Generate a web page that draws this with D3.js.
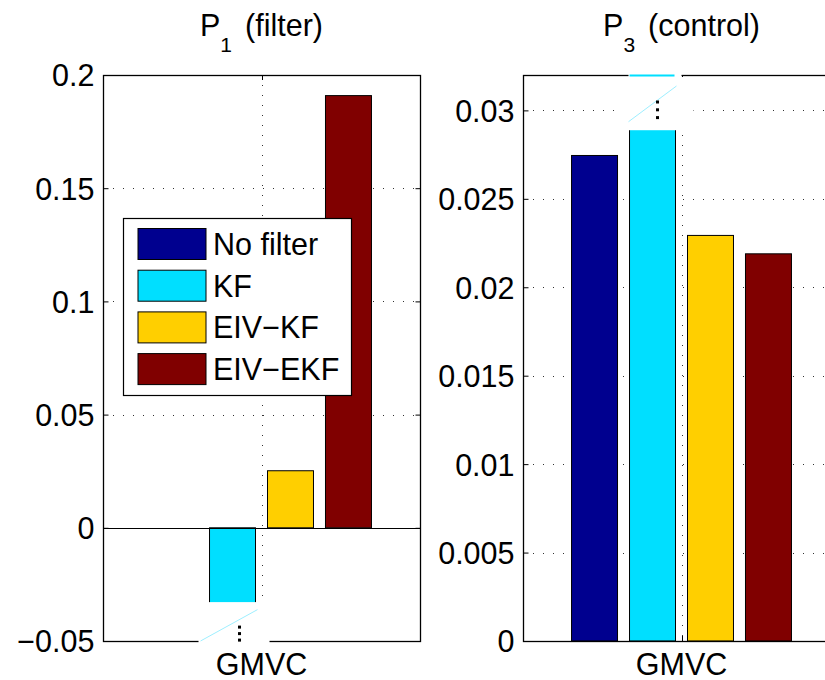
<!DOCTYPE html>
<html>
<head>
<meta charset="utf-8">
<script src="https://cdn.jsdelivr.net/npm/d3@7/dist/d3.min.js"></script>
<style>
  html, body { margin: 0; padding: 0; background: #fff; }
  svg { display: block; font-family: "Liberation Sans", Arial, Helvetica, sans-serif; }
</style>
</head>
<body>
<svg id="chart" width="825" height="680"></svg>
<script>
// ---- data ----
const categories = ["GMVC"];
const seriesNames = ["No filter", "KF", "EIV\u2212KF", "EIV\u2212EKF"];
const seriesColors = ["#00008F", "#00DFFF", "#FFCF00", "#800000"];

// P1 (filter): KF bar runs past the lower limit (axis break)
const p1Values = [0, -0.08, 0.0252, 0.1909];
const p1BreakAt = -0.0326;            // where the KF bar is cut
const p1Ticks = [-0.05, 0, 0.05, 0.1, 0.15, 0.2];
const p1TickLabels = ["\u22120.05", "0", "0.05", "0.1", "0.15", "0.2"];
const p1Domain = [-0.05, 0.2];

// P3 (control): KF bar runs past the upper limit (axis break)
const p3Values = [0.02745, 0.04, 0.02293, 0.02189];
const p3BreakAt = 0.02885;
const p3Ticks = [0, 0.005, 0.01, 0.015, 0.02, 0.025, 0.03];
const p3TickLabels = ["0", "0.005", "0.01", "0.015", "0.02", "0.025", "0.03"];
const p3Domain = [0, 0.032];

// ---- layout ----
const svg = d3.select("#chart");
const FS = 30.5;
const yTop = 75, yBot = 641;

const panels = [
  { id: "p1", sub: "1", rest: "(filter)", x0: 103, x1: 420, domain: p1Domain, values: p1Values,
    ticks: p1Ticks, labels: p1TickLabels, breakAt: p1BreakAt, breakIdx: 1, legend: true },
  { id: "p3", sub: "3", rest: "(control)", x0: 523, x1: 840, domain: p3Domain, values: p3Values,
    ticks: p3Ticks, labels: p3TickLabels, breakAt: p3BreakAt, breakIdx: 1, legend: false }
];

panels.forEach(p => {
  const g = svg.append("g");
  const y = d3.scaleLinear().domain(p.domain).range([yBot, yTop]);
  const xCat = d3.scaleBand().domain(categories).range([p.x0, p.x1]).paddingInner(0.155).paddingOuter(0.155);
  const xSer = d3.scaleBand().domain(d3.range(seriesNames.length)).range([0, xCat.bandwidth()])
                 .paddingInner(0.207).paddingOuter(0.1035);
  const cx = xCat(categories[0]) + xCat.bandwidth() / 2;

  g.append("clipPath").attr("id", "clip-" + p.id)
    .append("rect").attr("x", p.x0).attr("y", yTop).attr("width", p.x1 - p.x0).attr("height", yBot - yTop);

  // grid (dotted)
  const grid = g.append("g").attr("stroke", "#333").attr("stroke-width", 1).attr("stroke-dasharray", "1 9");
  grid.selectAll("line.h").data(p.ticks).join("line")
    .attr("x1", p.x0).attr("x2", p.x1)
    .attr("y1", d => Math.round(y(d)) + 0.5).attr("y2", d => Math.round(y(d)) + 0.5);
  grid.append("line").attr("x1", Math.round(cx) + 0.5).attr("x2", Math.round(cx) + 0.5)
    .attr("y1", yTop).attr("y2", yBot);

  // bars
  const y0 = y(0);
  g.append("g").attr("clip-path", "url(#clip-" + p.id + ")")
    .selectAll("rect").data(p.values).join("rect")
    .attr("x", (d, i) => xCat(categories[0]) + xSer(i))
    .attr("width", xSer.bandwidth())
    .attr("y", d => Math.min(y(d), y0))
    .attr("height", d => Math.abs(y(d) - y0))
    .attr("fill", (d, i) => seriesColors[i])
    .attr("stroke", "#000").attr("stroke-width", 1);

  // zero baseline
  g.append("line").attr("x1", p.x0).attr("x2", p.x1)
    .attr("y1", Math.round(y0) + 0.5).attr("y2", Math.round(y0) + 0.5)
    .attr("stroke", "#000").attr("stroke-width", 1.2);

  // box
  g.append("rect").attr("x", p.x0 + 0.5).attr("y", yTop + 0.5)
    .attr("width", p.x1 - p.x0).attr("height", yBot - yTop)
    .attr("fill", "none").attr("stroke", "#000").attr("stroke-width", 1.3);

  // axes (inward ticks)
  const axL = d3.axisLeft(y).tickValues(p.ticks).tickFormat((d, i) => p.labels[i])
    .tickSizeInner(-5).tickSizeOuter(0).tickPadding(9);
  const gl = g.append("g").attr("transform", `translate(${p.x0 + 0.5},0)`).call(axL);
  gl.select(".domain").remove();
  gl.selectAll("text").attr("font-size", FS).attr("font-family", "Liberation Sans, Arial, sans-serif")
    .attr("fill", "#000").attr("dy", "0.36em");
  gl.selectAll("line").attr("stroke", "#000");
  const axR = d3.axisRight(y).tickValues(p.ticks).tickFormat("").tickSizeInner(-5).tickSizeOuter(0);
  const gr = g.append("g").attr("transform", `translate(${p.x1 + 0.5},0)`).call(axR);
  gr.select(".domain").remove();
  gr.selectAll("line").attr("stroke", "#000");
  [yTop, yBot].forEach((yy, k) => {
    g.append("line").attr("x1", Math.round(cx) + 0.5).attr("x2", Math.round(cx) + 0.5)
      .attr("y1", yy).attr("y2", k === 0 ? yy + 5 : yy - 5).attr("stroke", "#000");
  });

  // axis break decoration
  const bx0 = xCat(categories[0]) + xSer(p.breakIdx);
  const bx1 = bx0 + xSer.bandwidth();
  const yb = y(p.breakAt);
  const goesDown = p.values[p.breakIdx] < p.domain[0];
  const dec = g.append("g");
  if (goesDown) {
    dec.append("rect").attr("x", bx0 - 11).attr("y", yb + 0.5)
      .attr("width", bx1 - bx0 + 25).attr("height", yBot - yb + 4).attr("fill", "#fff");
    dec.append("line").attr("x1", bx1 + 2).attr("y1", yb + 8).attr("x2", bx0 - 9).attr("y2", yBot)
      .attr("stroke", "#9EEFFF").attr("stroke-width", 1);
    const mx = (bx0 + bx1) / 2 + 7;
    [0, 1, 2].forEach(k => dec.append("rect").attr("x", mx - 1.5).attr("y", yb + 24 + k * 6.5)
      .attr("width", 3).attr("height", 3).attr("fill", "#000"));
  } else {
    dec.append("rect").attr("x", bx0 - 11).attr("y", yTop + 2)
      .attr("width", bx1 - bx0 + 29).attr("height", yb - yTop - 2.5).attr("fill", "#fff");
    dec.append("rect").attr("x", bx0 - 1).attr("y", yTop - 1.5)
      .attr("width", cx - bx0 + 1).attr("height", 4).attr("fill", "#fff");
    dec.append("line").attr("x1", bx0).attr("x2", bx1 - 1).attr("y1", yTop + 0.5).attr("y2", yTop + 0.5)
      .attr("stroke", "#00DFFF").attr("stroke-width", 2);
    dec.append("line").attr("x1", bx1 + 1).attr("y1", yTop + 11).attr("x2", bx0 - 1).attr("y2", yb - 9)
      .attr("stroke", "#9EEFFF").attr("stroke-width", 1);
    const mx = (bx0 + bx1) / 2 + 5;
    [0, 1, 2].forEach(k => dec.append("rect").attr("x", mx - 1.5).attr("y", yTop + 25.5 + k * 7.8)
      .attr("width", 3).attr("height", 3).attr("fill", "#000"));
  }

  // title
  const t = g.append("text").attr("x", cx).attr("y", 36).attr("text-anchor", "middle")
    .attr("font-size", FS).attr("fill", "#000");
  t.append("tspan").text("P");
  t.append("tspan").attr("dy", 16).attr("font-size", 21).text(p.sub);
  t.append("tspan").attr("dy", -16).attr("dx", 13).text(p.rest);

  // x label
  g.append("text").attr("x", cx).attr("y", 675).attr("text-anchor", "middle")
    .attr("font-size", FS).attr("fill", "#000").text(categories[0]);

  // legend
  if (p.legend) {
    const lg = g.append("g");
    lg.append("rect").attr("x", 123.5).attr("y", 218.5).attr("width", 228).attr("height", 177)
      .attr("fill", "#fff").attr("stroke", "#000").attr("stroke-width", 1.2);
    seriesNames.forEach((name, i) => {
      const ry = 228.5 + i * 41.7;
      lg.append("rect").attr("x", 138).attr("y", ry).attr("width", 68).attr("height", 31)
        .attr("fill", seriesColors[i]).attr("stroke", "#000").attr("stroke-width", 1);
      lg.append("text").attr("x", 213).attr("y", ry + 26.5).attr("font-size", FS).attr("fill", "#000").text(name);
    });
  }
});
</script>
</body>
</html>
